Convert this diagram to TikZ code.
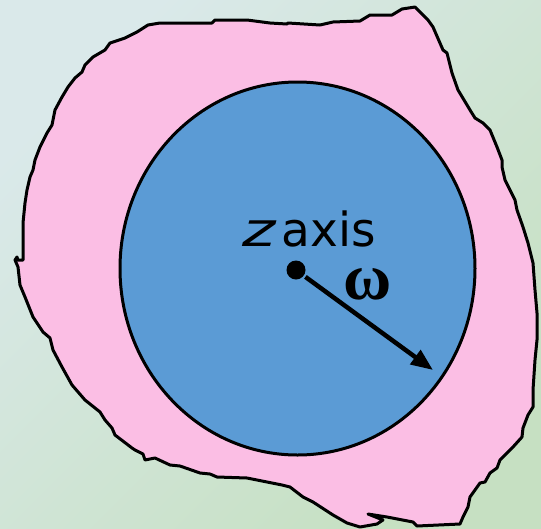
\documentclass[tikz,border=0pt]{standalone}
\usepackage{fontspec}
\setmainfont{DejaVu Sans}
\newfontfamily\omegafont{Liberation Serif}
\usepackage{tikz}
\usetikzlibrary{arrows.meta,shapes.geometric}
\definecolor{bgblue}{RGB}{218,233,234}
\definecolor{bggreen}{RGB}{198,224,194}
\definecolor{blobpink}{RGB}{251,190,228}
\definecolor{diskblue}{RGB}{91,155,213}

\begin{document}
\begin{tikzpicture}[x=1pt, y=-1pt,
    blob/.style={fill=blobpink, draw=black, line width=3pt, line join=round},
    disk/.style={ellipse, draw=black, line width=3pt, fill=diskblue, minimum width=355pt, minimum height=373pt, inner sep=0pt},
    axisdot/.style={circle, fill=black, minimum size=19pt, inner sep=0pt},
    spin/.style={-{Triangle[length=22pt, width=17pt]}, line width=4.5pt, shorten <=2pt}]
  % background
  \shade[top color=bgblue, bottom color=bggreen, shading angle=45] (0,0) rectangle (541,528);
  \useasboundingbox (0,0) rectangle (541,528);
  % rotating body
  \draw[blob] plot coordinates {(148,25) (160,23) (212,23) (215,20) (247,20) (270,23) (287,24) (288,23) (320,25) (333,22) (360,21) (370,15) (392,15) (402,9) (415,7) (420,12) (428,20) (433,27) (443,50) (447,53) (450,65) (452,73) (458,90) (470,110) (475,118) (483,123) (490,130) (497,147) (502,160) (502,167) (505,180) (515,200) (517,210) (523,227) (528,243) (533,263) (535,290) (537,313) (537,340) (535,360) (533,390) (533,407) (528,415) (523,428) (522,437) (513,447) (500,460) (497,468) (490,473) (485,482) (480,483) (470,497) (468,507) (463,517) (460,524) (417,526) (413,522) (387,517) (368,514) (383,520) (377,524) (360,527) (347,523) (333,515) (313,502) (303,497) (290,487) (282,485) (267,482) (257,480) (247,478) (217,477) (210,474) (200,473) (180,466) (170,465) (155,458) (145,460) (143,454) (135,450) (132,448) (115,435) (112,428) (105,420) (100,412) (85,400) (72,385) (62,367) (53,350) (50,338) (43,332) (33,317) (27,302) (25,297) (20,285) (18,267) (15,260) (17,257) (18,260) (23,260) (23,223) (25,203) (27,190) (30,177) (33,170) (35,160) (40,147) (47,133) (52,125) (55,110) (62,97) (68,87) (75,78) (82,72) (85,65) (93,57) (105,50) (110,43) (125,38) (137,32)} -- cycle;
  \node[disk] (disk) at (297.5,268.5) {};
  \node[axisdot] (axis) at (296,270) {};
  \coordinate (tip) at (433,370);
  \draw[spin] (axis) -- (tip);
  \node[anchor=base west, inner sep=0pt, font=\fontsize{47}{47}\selectfont] (label) at (242,246) {\scalebox{1.35}[1]{\textit{z}}\hspace{5pt}axis};
  \node[anchor=base west, inner sep=0pt, font=\omegafont\bfseries\fontsize{66}{66}\selectfont] (omega) at (343,299) {ω};
\end{tikzpicture}
\end{document}
